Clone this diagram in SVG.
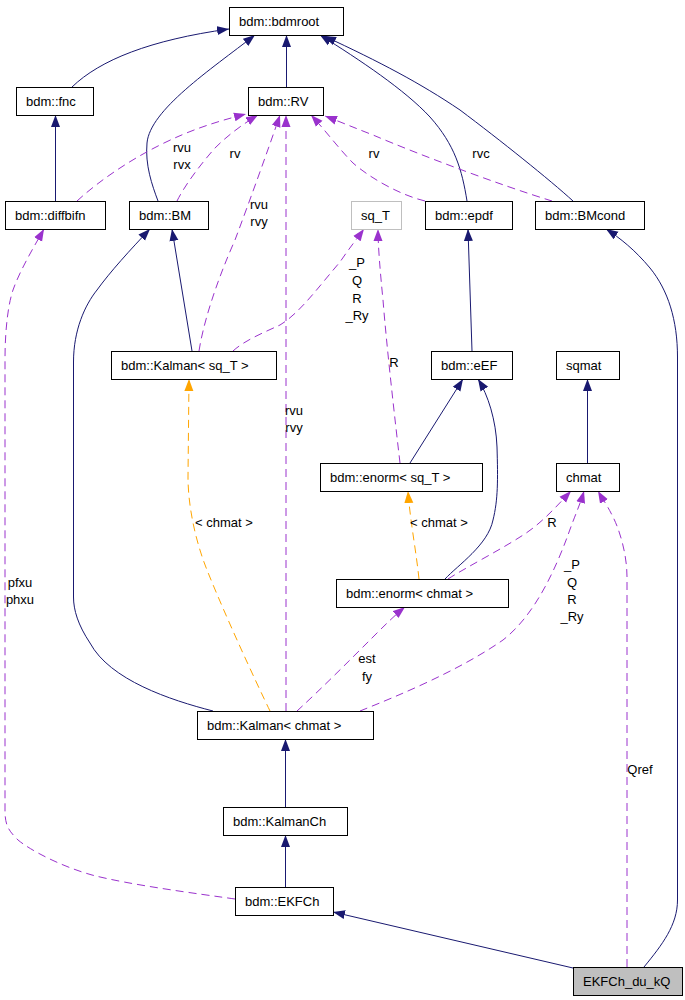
<svg xmlns="http://www.w3.org/2000/svg" width="685" height="1000" viewBox="0 0 685 1000">
<style>
.n rect{fill:#fff;stroke:#000;stroke-width:1}
.n text,.lbl{font-family:"Liberation Sans",Arial,sans-serif;font-size:13px;fill:#000}
.lbl{text-anchor:middle}
.s{fill:none;stroke:#191970;stroke-width:1}
.d{fill:none;stroke:#9a32cd;stroke-width:1;stroke-dasharray:8,5}
.o{fill:none;stroke:#ffa500;stroke-width:1;stroke-dasharray:8,5}
</style>
<defs>
<marker id="an" markerUnits="userSpaceOnUse" markerWidth="13" markerHeight="10" refX="12" refY="4.5" orient="auto" viewBox="0 0 13 9"><path d="M0,0 L12,4.5 L0,9 z" fill="#191970"/></marker>
<marker id="ap" markerUnits="userSpaceOnUse" markerWidth="13" markerHeight="10" refX="12" refY="4.5" orient="auto" viewBox="0 0 13 9"><path d="M0,0 L12,4.5 L0,9 z" fill="#9a32cd"/></marker>
<marker id="ao" markerUnits="userSpaceOnUse" markerWidth="13" markerHeight="10" refX="12" refY="4.5" orient="auto" viewBox="0 0 13 9"><path d="M0,0 L12,4.5 L0,9 z" fill="#ffa500"/></marker>
</defs>
<g id="edges">
<path class="s" marker-end="url(#an)" d="M72,87 C100,60 150,40 229,29"/>
<path class="s" marker-end="url(#an)" d="M158,201 C152,185 145,165 147,143 C150,110 210,70 255,35"/>
<path class="s" marker-end="url(#an)" d="M286.5,87 L286.5,35"/>
<path class="s" marker-end="url(#an)" d="M467,201 C462,170 455,145 430,117 C405,90 360,60 320,35"/>
<path class="s" marker-end="url(#an)" d="M573,201 C550,180 500,140 460,110 C420,83 380,62 324,36"/>
<path class="s" marker-end="url(#an)" d="M55.5,201 L55.5,115"/>
<path class="s" marker-end="url(#an)" d="M192,351 L172,229"/>
<path class="s" marker-end="url(#an)" d="M213,711 C170,700 110,680 90,643 C78,625 73.5,610 73.5,597 L73.5,362 C73.5,330 85,305 97,290 C110,272 130,250 150,229"/>
<path class="s" marker-end="url(#an)" d="M472,351 L468,229"/>
<path class="s" marker-end="url(#an)" d="M644,967 C662,945 677.5,925 677.5,900 L677.5,357 C677.5,320 668,290 650,268 C635,250 620,238 606,229"/>
<path class="s" marker-end="url(#an)" d="M410,463 L463,379"/>
<path class="s" marker-end="url(#an)" d="M445,579 C458,565 488,545 493,520 C498,500 498,480 497,447 C496,420 488,395 478,379"/>
<path class="s" marker-end="url(#an)" d="M587.5,463 L587.5,379"/>
<path class="s" marker-end="url(#an)" d="M285.5,807 L285.5,739"/>
<path class="s" marker-end="url(#an)" d="M285.5,887 L285.5,835"/>
<path class="s" marker-end="url(#an)" d="M573,968 L333,912"/>
<path class="d" marker-end="url(#ap)" d="M77,201 C100,180 130,160 160,145 C190,130 215,122 246,114"/>
<path class="d" marker-end="url(#ap)" d="M177,201 C185,185 200,165 215,148 C228,135 243,124 258,115"/>
<path class="d" marker-end="url(#ap)" d="M199,351 C203,325 215,285 235,240 C250,200 268,150 280,115"/>
<path class="d" marker-end="url(#ap)" d="M286,711 L286,115"/>
<path class="d" marker-end="url(#ap)" d="M425,201 C400,195 370,178 353,163 C340,150 325,130 311,115"/>
<path class="d" marker-end="url(#ap)" d="M552,201 C500,185 420,155 373,135 C355,128 338,121 325,116"/>
<path class="d" marker-end="url(#ap)" d="M233,351 C245,340 265,332 280,325 C300,313 320,285 340,262 C348,250 356,240 364,229"/>
<path class="d" marker-end="url(#ap)" d="M400,463 C395,420 387,350 383,300 C380,270 378,245 378,229"/>
<path class="o" marker-end="url(#ao)" d="M270,711 C255,680 225,615 207,570 C195,540 188,505 188,477 L189,379"/>
<path class="o" marker-end="url(#ao)" d="M419,579 C416,550 410,520 408,491"/>
<path class="d" marker-end="url(#ap)" d="M448,579 C465,568 500,550 520,537 C540,525 555,508 571,491"/>
<path class="d" marker-end="url(#ap)" d="M360,711 C400,695 460,670 503,640 C535,615 555,570 568,535 C575,515 580,505 584,491"/>
<path class="d" marker-end="url(#ap)" d="M297,711 C320,690 350,660 373,637 C385,625 395,615 405,607"/>
<path class="d" marker-end="url(#ap)" d="M627,967 L627,577 C627,555 620,530 612,515 C607,505 602,498 598,491"/>
<path class="d" marker-end="url(#ap)" d="M235,899 C200,894 130,885 92,875 C60,866 30,850 18,840 C8,830 5,825 5,810 L5,360 C5,330 8,305 13,290 C20,270 35,245 44,229"/>
<text class="lbl" x="182" y="152">rvu</text>
<text class="lbl" x="182" y="169">rvx</text>
<text class="lbl" x="235" y="158">rv</text>
<text class="lbl" x="259" y="209">rvu</text>
<text class="lbl" x="259" y="226">rvy</text>
<text class="lbl" x="374" y="158">rv</text>
<text class="lbl" x="481" y="158">rvc</text>
<text class="lbl" x="357" y="267">_P</text>
<text class="lbl" x="357" y="285">Q</text>
<text class="lbl" x="357" y="303">R</text>
<text class="lbl" x="357" y="320">_Ry</text>
<text class="lbl" x="394" y="367">R</text>
<text class="lbl" x="294" y="415">rvu</text>
<text class="lbl" x="294" y="432">rvy</text>
<text class="lbl" x="224" y="527">&lt; chmat &gt;</text>
<text class="lbl" x="439" y="527">&lt; chmat &gt;</text>
<text class="lbl" x="552" y="527">R</text>
<text class="lbl" x="572" y="569">_P</text>
<text class="lbl" x="572" y="587">Q</text>
<text class="lbl" x="572" y="604">R</text>
<text class="lbl" x="572" y="621">_Ry</text>
<text class="lbl" x="367" y="663">est</text>
<text class="lbl" x="367" y="681">fy</text>
<text class="lbl" x="20" y="587">pfxu</text>
<text class="lbl" x="20" y="604">phxu</text>
<text class="lbl" x="640" y="774">Qref</text>
</g>
<g id="bdmroot" class="n"><rect x="229.5" y="7.5" width="114" height="28"/><text x="239" y="26">bdm::bdmroot</text></g>
<g id="fnc" class="n"><rect x="16.5" y="87.5" width="77" height="28"/><text x="26" y="106">bdm::fnc</text></g>
<g id="RV" class="n"><rect x="248.5" y="87.5" width="75" height="28"/><text x="258" y="106">bdm::RV</text></g>
<g id="diffbifn" class="n"><rect x="5.5" y="201.5" width="100" height="28"/><text x="15" y="220">bdm::diffbifn</text></g>
<g id="BM" class="n"><rect x="129.5" y="201.5" width="79" height="28"/><text x="139" y="220">bdm::BM</text></g>
<g id="sq_T" class="n"><rect x="351.5" y="201.5" width="50" height="28" style="stroke:#bfbfbf"/><text x="361" y="220">sq_T</text></g>
<g id="epdf" class="n"><rect x="425.5" y="201.5" width="87" height="28"/><text x="435" y="220">bdm::epdf</text></g>
<g id="BMcond" class="n"><rect x="535.5" y="201.5" width="109" height="28"/><text x="545" y="220">bdm::BMcond</text></g>
<g id="Kalman_sqT" class="n"><rect x="111.5" y="351.5" width="165" height="28"/><text x="121" y="370">bdm::Kalman&lt; sq_T &gt;</text></g>
<g id="eEF" class="n"><rect x="431.5" y="351.5" width="81" height="28"/><text x="441" y="370">bdm::eEF</text></g>
<g id="sqmat" class="n"><rect x="556.5" y="351.5" width="63" height="28"/><text x="566" y="370">sqmat</text></g>
<g id="enorm_sqT" class="n"><rect x="320.5" y="463.5" width="162" height="28"/><text x="330" y="482">bdm::enorm&lt; sq_T &gt;</text></g>
<g id="chmat" class="n"><rect x="556.5" y="463.5" width="63" height="28"/><text x="566" y="482">chmat</text></g>
<g id="enorm_chmat" class="n"><rect x="336.5" y="579.5" width="172" height="28"/><text x="346" y="598">bdm::enorm&lt; chmat &gt;</text></g>
<g id="Kalman_chmat" class="n"><rect x="197.5" y="711.5" width="176" height="28"/><text x="207" y="730">bdm::Kalman&lt; chmat &gt;</text></g>
<g id="KalmanCh" class="n"><rect x="223.5" y="807.5" width="124" height="28"/><text x="233" y="826">bdm::KalmanCh</text></g>
<g id="EKFCh" class="n"><rect x="235.5" y="887.5" width="98" height="28"/><text x="245" y="906">bdm::EKFCh</text></g>
<g id="EKFCh_du_kQ" class="n"><rect x="573.5" y="967.5" width="109" height="28" style="fill:#bfbfbf"/><text x="583" y="986">EKFCh_du_kQ</text></g>
</svg>
